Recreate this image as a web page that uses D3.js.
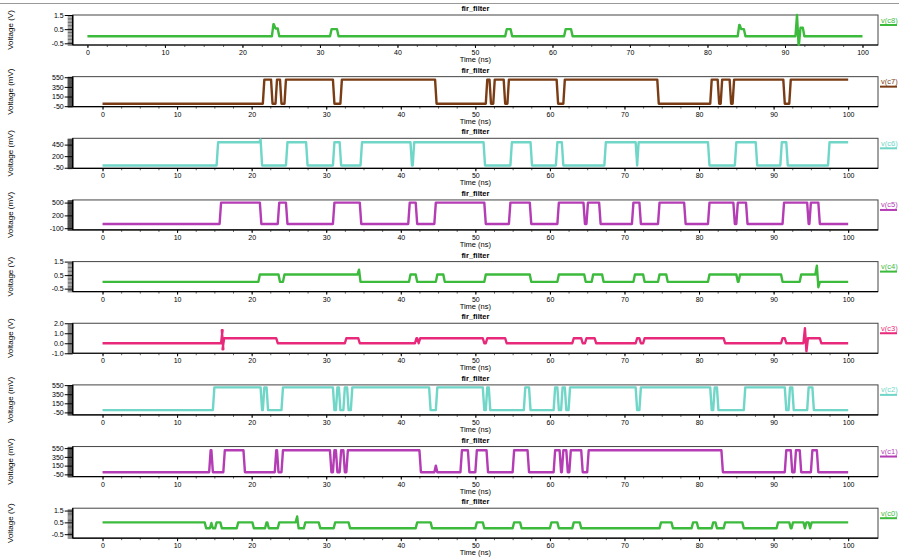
<!doctype html>
<html>
<head>
<meta charset="utf-8">
<script src="https://cdnjs.cloudflare.com/ajax/libs/d3/7.8.5/d3.min.js"></script>
<style>
  body { margin: 0; background: #fff; }
  svg { display: block; font-family: "Liberation Sans", Arial, sans-serif; }
</style>
</head>
<body>
<svg id="chart" width="899" height="559"></svg>
<script>
// transition lists: [time (ns), new level]; every trace starts at t=0 and ends at t=100
var names = ["v(c8)", "v(c7)", "v(c6)", "v(c5)", "v(c4)", "v(c3)", "v(c2)", "v(c1)", "v(c0)"];
var units = ["V", "mV", "mV", "mV", "V", "V", "mV", "mV", "V"];
var startLevels = [0, 0, 0, 0, 0, 0, 0, 0, 0.5];

var c8 = [[23.8,0.85],[24.05,0.55],[24.55,0],[31.3,0.5],[32.2,0],[53.9,0.5],[54.6,0],[61.5,0.5],[62.4,0],
  [83.9,0.8],[84.15,0.5],[84.7,0],[91.35,1.5],[91.55,-0.6],[91.8,0.6],[92.3,0]];
var c7 = [[21.5,500],[22.6,0],[23.2,500],[23.8,0],[24.4,500],[30.9,0],[31.9,500],[44.6,0],[51.4,500],[51.9,0],
  [52.4,500],[53.8,0],[54.3,500],[60.9,0],[61.8,500],[74.4,0],[81.5,500],[82.5,0],[82.9,500],[84.1,0],[84.5,500],
  [91.3,0],[92.1,500]];
var c6 = [[15.3,500],[21.0,560],[21.2,0],[24.6,500],[27.3,0],[30.9,500],[31.8,0],[34.6,500],[41.3,0],[41.6,500],
  [51.1,0],[54.7,500],[57.4,0],[60.8,500],[61.6,0],[67.3,500],[71.5,0],[71.7,500],[81.2,0],[84.8,500],[87.6,0],
  [90.9,500],[91.7,0],[97.3,500]];
var c5 = [[15.7,500],[21.1,0],[23.5,500],[24.6,0],[30.9,500],[34.5,0],[41.0,500],[42.0,0],[44.5,500],[51.2,0],
  [54.5,500],[57.3,0],[61.0,500],[64.5,0],[64.9,500],[66.6,0],[71.0,500],[72.0,0],[74.5,500],[78.0,0],[81.2,500],
  [84.6,0],[85.0,500],[86.3,0],[91.2,500],[94.5,0],[94.8,500],[96.0,0]];
var c4 = [[20.9,0.55],[23.6,0],[24.2,0.55],[34.2,0.9],[34.4,0],[41.1,0.55],[42.0,0],[44.7,0.55],[45.7,0],
  [51.2,0.55],[57.3,0],[61.0,0.55],[64.6,0],[65.6,0.55],[67.0,0],[71.2,0.55],[72.5,0],[74.5,0.55],[75.6,0],
  [81.2,0.55],[85.0,0],[85.3,0.55],[91.0,0],[93.5,0.55],[95.6,1.2],[95.8,-0.4],[96.0,0]];
var c3 = [[15.9,1.3],[16.0,-0.6],[16.1,0.5],[23.3,0],[32.5,0.5],[34.3,0],[41.9,0.5],[42.2,0],[42.4,0.5],
  [51.0,0],[51.4,0.5],[54.0,0],[63.0,0.5],[64.2,0],[64.7,0.5],[66.0,0],[71.5,0.5],[72.0,0],[72.5,0.5],
  [83.3,0],[91.0,0.5],[91.5,0],[94.0,1.5],[94.2,-0.8],[94.4,0.5],[96.2,0]];
var c2 = [[14.8,500],[21.2,0],[21.5,500],[22.0,0],[23.5,0],[24.0,500],[30.9,0],[31.3,500],[31.7,0],[32.3,500],
  [32.8,0],[33.3,500],[43.8,0],[44.7,500],[51.0,0],[51.4,500],[51.8,0],[56.5,500],[57.2,0],[60.5,500],[61.0,0],
  [61.5,500],[62.0,0],[62.5,500],[71.5,0],[72.0,500],[81.5,0],[81.9,500],[82.4,0],[86.0,500],[91.5,0],[92.0,500],
  [92.5,0],[94.5,500],[95.2,0]];
var c1 = [[14.3,500],[14.6,0],[16.2,500],[18.9,0],[23.1,500],[23.4,0],[24.0,500],[30.5,0],[30.9,500],[31.3,0],
  [31.8,500],[32.3,0],[32.7,500],[42.5,0],[44.5,150],[44.7,0],[48.0,500],[49.0,0],[50.0,500],[51.5,0],[55.0,500],
  [57.0,0],[60.5,500],[61.3,0],[61.6,500],[62.2,0],[62.6,500],[64.2,0],[65.0,500],[83.0,0],[91.5,500],[92.3,0],
  [92.8,500],[93.5,0],[95.0,500],[95.8,0]];
var c0 = [[13.7,0],[14.4,0.45],[14.6,0],[15.1,0.5],[15.8,0],[18.0,0.5],[20.1,0],[21.8,0.5],[22.1,0],[23.5,0.5],
  [25.9,1.0],[26.1,0],[27.0,0.5],[29.0,0],[31.0,0.5],[33.0,0],[42.0,0.5],[44.0,0],[50.0,0.5],[51.0,0],
  [55.0,0.5],[56.0,0],[60.0,0.5],[61.0,0],[63.0,0.5],[64.0,0],[72.2,0],[74.7,0.5],[76.3,0],[79.0,0.5],[79.7,0],
  [81.7,0.5],[82.2,0],[83.3,0.5],[85.8,0],[87.7,0],[90.4,0.5],[92.1,0],[92.4,0.5],[94.0,0],[94.2,0.5],[94.7,0],
  [94.9,0.5],[95.8,0.5]];
var traces = [c8, c7, c6, c5, c4, c3, c2, c1, c0];

var yDomains = [[-0.62, 1.5], [-60, 562], [-62, 586], [-141, 562], [-0.72, 1.5], [-1, 2], [-105, 555], [-100, 586], [-0.84, 1.7]];
var yTicks = [[1.5, 0.5, -0.5], [550, 350, 150, -50], [450, 200, -50], [500, 200, -100], [1.5, 0.5, -0.5],
  [2.0, 1.0, 0.0, -1.0], [550, 350, 150, -50], [550, 350, 150, -50], [1.5, 0.5, -0.5]];
var xTicks = [0, 10, 20, 30, 40, 50, 60, 70, 80, 90, 100];
var colors = ["#3cba3c", "#7a3c14", "#6fd6c8", "#b43cb4", "#3cba3c", "#e8287a", "#6fd6c8", "#b43cb4", "#3cba3c"];

var svg = d3.select("#chart");
var boxLeft = 72.7, boxRight = 878, boxH = 30, top0 = 15, step = 61.65;
var ramp = 0.2;

svg.append("line").attr("x1", 0).attr("x2", 899).attr("y1", 3.5).attr("y2", 3.5)
  .attr("stroke", "#999").attr("stroke-width", 1);

names.forEach(function(name, i) {
  var top = top0 + i * step;
  var g = svg.append("g");
  var x = d3.scaleLinear().domain(i == 0 ? [-1.9, 102] : [-4, 104]).range([boxLeft, boxRight]);
  var y = d3.scaleLinear().domain(yDomains[i]).range([top + boxH, top]);

  // minor y ticks
  var yd = yDomains[i];
  var minorStep = units[i] == "mV" ? 10 : 0.1;
  var minor = d3.range(Math.ceil(yd[0] / minorStep) * minorStep, yd[1], minorStep);
  g.append("g").attr("transform", "translate(" + boxLeft + ",0)")
    .call(d3.axisLeft(y).tickValues(minor).tickSize(5).tickFormat(""))
    .call(function(a) { a.select(".domain").remove(); a.selectAll("line").attr("stroke", "#444").attr("stroke-width", 0.8); });

  var f = units[i] == "mV" ? d3.format("d") : d3.format(".1f");
  g.append("g").attr("transform", "translate(" + boxLeft + ",0)")
    .call(d3.axisLeft(y).tickValues(yTicks[i]).tickSize(8).tickPadding(1)
      .tickFormat(function(d) { return f(d).replace("\u2212", "-"); }))
    .call(function(a) {
      a.select(".domain").remove();
      a.selectAll("text").attr("font-size", 7).attr("fill", "#000");
    });

  // x axis
  g.append("g").attr("transform", "translate(0," + (top + boxH) + ")")
    .call(d3.axisBottom(x).tickValues(d3.range(0, 101, 2.5)).tickSize(2).tickFormat(""))
    .call(function(a) { a.select(".domain").remove(); a.selectAll("line").attr("stroke", "#666"); });
  g.append("g").attr("transform", "translate(0," + (top + boxH) + ")")
    .call(d3.axisBottom(x).tickValues(xTicks).tickSize(3).tickPadding(2))
    .call(function(a) {
      a.select(".domain").remove();
      a.selectAll("text").attr("font-size", 7).attr("fill", "#000");
    });

  // frame
  g.append("rect").attr("x", boxLeft).attr("y", top).attr("width", boxRight - boxLeft).attr("height", boxH)
    .attr("fill", "none").attr("stroke", "#444").attr("stroke-width", 1);
  g.append("line").attr("x1", boxLeft).attr("x2", boxLeft).attr("y1", top).attr("y2", top + boxH)
    .attr("stroke", "#000").attr("stroke-width", 1.5);
  g.append("line").attr("x1", boxLeft).attr("x2", boxRight).attr("y1", top + boxH).attr("y2", top + boxH)
    .attr("stroke", "#000").attr("stroke-width", 1.2);

  // trace
  var pts = [[0, startLevels[i]]];
  var level = startLevels[i];
  traces[i].forEach(function(e) {
    pts.push([e[0], level]);
    pts.push([e[0] + ramp, e[1]]);
    level = e[1];
  });
  pts.push([100, level]);
  g.append("path").datum(pts)
    .attr("fill", "none").attr("stroke", colors[i]).attr("stroke-width", 2.4)
    .attr("stroke-linejoin", "round")
    .attr("d", d3.line().x(function(d) { return x(d[0]); }).y(function(d) { return y(d[1]); }));

  // texts
  g.append("text").attr("x", (boxLeft + boxRight) / 2).attr("y", top - 4).attr("text-anchor", "middle")
    .attr("font-size", 7.5).attr("font-weight", "bold").text("fir_filter");
  g.append("text").attr("x", (boxLeft + boxRight) / 2).attr("y", top + boxH + 17).attr("text-anchor", "middle")
    .attr("font-size", 7.5).text("Time (ns)");
  g.append("text").attr("transform", "translate(13," + (top + boxH / 2) + ") rotate(-90)")
    .attr("text-anchor", "middle").attr("font-size", 8).text("Voltage (" + units[i] + ")");

  // legend
  g.append("text").attr("x", 881).attr("y", top + 7.5).attr("font-size", 7.5).attr("fill", colors[i]).text(name);
  g.append("line").attr("x1", 880).attr("x2", 897).attr("y1", top + 10).attr("y2", top + 10)
    .attr("stroke", colors[i]).attr("stroke-width", 2);
});
</script>
</body>
</html>
